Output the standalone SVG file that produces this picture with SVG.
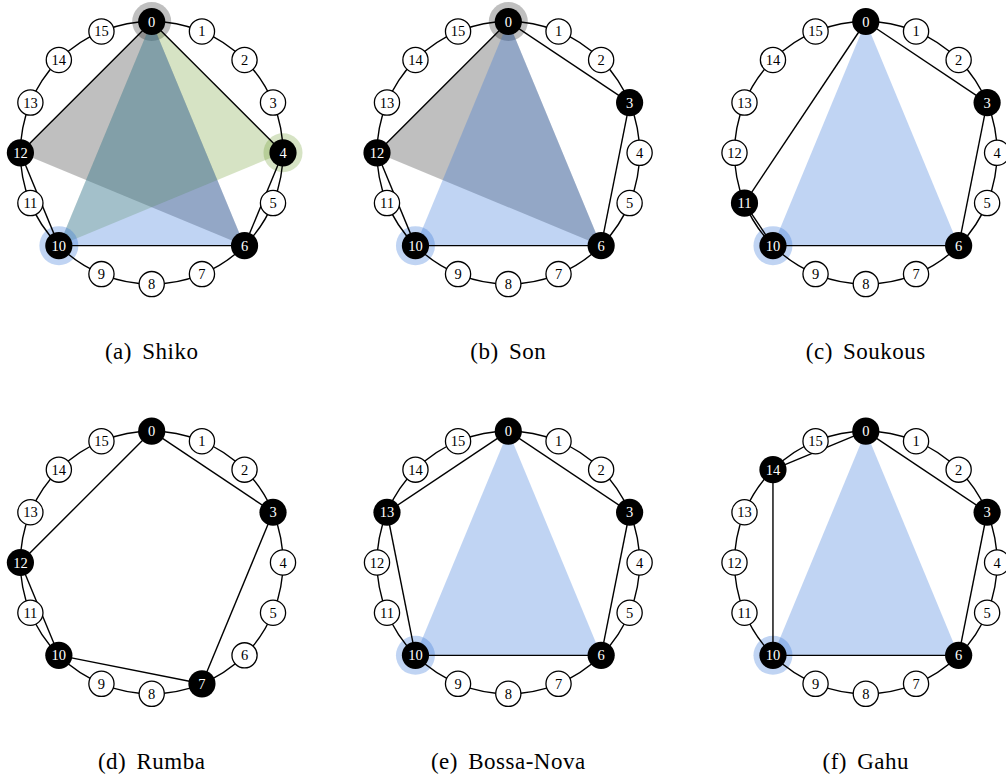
<svg xmlns="http://www.w3.org/2000/svg" width="1006" height="779" viewBox="0 0 1006 779">
<style>
.ring{fill:none;stroke:#000;stroke-width:1.4}
.edge{stroke:#000;stroke-width:1.4;fill:none}
.n circle{fill:#fff;stroke:#000;stroke-width:1.3}
.n text{font-family:'Liberation Serif','Times New Roman','DejaVu Serif',serif;font-size:14.5px;text-anchor:middle;fill:#000}
.on circle{fill:#000;stroke:none}
.on text{fill:#fff}
.gray{fill:#000;fill-opacity:0.25}
.green{fill:#5a9114;fill-opacity:0.25}
.blue{fill:#3070d7;fill-opacity:0.3}
.cap{font-family:'Liberation Serif','Times New Roman','DejaVu Serif',serif;font-size:23px;text-anchor:middle;fill:#000;word-spacing:4px;letter-spacing:0.5px}
</style>
<rect width="1006" height="779" fill="#fff"/>

<!-- (a) Shiko -->
<g id="diagram-a" transform="translate(151.7,152.8)">
<g id="a-fills">
<polygon class="gray" points="0,-131.3 -131.3,0 92.84,92.84"/>
<circle class="gray" cx="0" cy="-131.3" r="19.5"/>
<polygon class="green" points="0,-131.3 131.3,0 -92.84,92.84"/>
<circle class="green" cx="131.3" cy="0" r="19.5"/>
<polygon class="blue" points="0,-131.3 -92.84,92.84 92.84,92.84"/>
<circle class="blue" cx="-92.84" cy="92.84" r="19.5"/>
</g>
<g id="a-connectors">
<circle class="ring" r="131.3"/>
<line class="edge" x1="0" y1="-131.3" x2="131.3" y2="0"/>
<line class="edge" x1="131.3" y1="0" x2="92.84" y2="92.84"/>
<line class="edge" x1="92.84" y1="92.84" x2="-92.84" y2="92.84"/>
<line class="edge" x1="-92.84" y1="92.84" x2="-131.3" y2="0"/>
<line class="edge" x1="-131.3" y1="0" x2="0" y2="-131.3"/>
</g>
<g id="a0" class="n on" transform="translate(0,-131.3)"><circle r="13.6"/><text y="5">0</text></g>
<g id="a1" class="n" transform="translate(50.25,-121.31)"><circle r="12.6"/><text y="5">1</text></g>
<g id="a2" class="n" transform="translate(92.84,-92.84)"><circle r="12.6"/><text y="5">2</text></g>
<g id="a3" class="n" transform="translate(121.31,-50.25)"><circle r="12.6"/><text y="5">3</text></g>
<g id="a4" class="n on" transform="translate(131.3,0)"><circle r="13.6"/><text y="5">4</text></g>
<g id="a5" class="n" transform="translate(121.31,50.25)"><circle r="12.6"/><text y="5">5</text></g>
<g id="a6" class="n on" transform="translate(92.84,92.84)"><circle r="13.6"/><text y="5">6</text></g>
<g id="a7" class="n" transform="translate(50.25,121.31)"><circle r="12.6"/><text y="5">7</text></g>
<g id="a8" class="n" transform="translate(0,131.3)"><circle r="12.6"/><text y="5">8</text></g>
<g id="a9" class="n" transform="translate(-50.25,121.31)"><circle r="12.6"/><text y="5">9</text></g>
<g id="a10" class="n on" transform="translate(-92.84,92.84)"><circle r="13.6"/><text y="5">10</text></g>
<g id="a11" class="n" transform="translate(-121.31,50.25)"><circle r="12.6"/><text y="5">11</text></g>
<g id="a12" class="n on" transform="translate(-131.3,0)"><circle r="13.6"/><text y="5">12</text></g>
<g id="a13" class="n" transform="translate(-121.31,-50.25)"><circle r="12.6"/><text y="5">13</text></g>
<g id="a14" class="n" transform="translate(-92.84,-92.84)"><circle r="12.6"/><text y="5">14</text></g>
<g id="a15" class="n" transform="translate(-50.25,-121.31)"><circle r="12.6"/><text y="5">15</text></g>
</g>
<text id="cap-a" class="cap" x="151.7" y="359">(a) Shiko</text>

<!-- (b) Son -->
<g id="diagram-b" transform="translate(508.3,152.8)">
<g id="b-fills">
<polygon class="gray" points="0,-131.3 -131.3,0 92.84,92.84"/>
<circle class="gray" cx="0" cy="-131.3" r="19.5"/>
<polygon class="blue" points="0,-131.3 -92.84,92.84 92.84,92.84"/>
<circle class="blue" cx="-92.84" cy="92.84" r="19.5"/>
</g>
<g id="b-connectors">
<circle class="ring" r="131.3"/>
<line class="edge" x1="0" y1="-131.3" x2="121.31" y2="-50.25"/>
<line class="edge" x1="121.31" y1="-50.25" x2="92.84" y2="92.84"/>
<line class="edge" x1="92.84" y1="92.84" x2="-92.84" y2="92.84"/>
<line class="edge" x1="-92.84" y1="92.84" x2="-131.3" y2="0"/>
<line class="edge" x1="-131.3" y1="0" x2="0" y2="-131.3"/>
</g>
<g id="b0" class="n on" transform="translate(0,-131.3)"><circle r="13.6"/><text y="5">0</text></g>
<g id="b1" class="n" transform="translate(50.25,-121.31)"><circle r="12.6"/><text y="5">1</text></g>
<g id="b2" class="n" transform="translate(92.84,-92.84)"><circle r="12.6"/><text y="5">2</text></g>
<g id="b3" class="n on" transform="translate(121.31,-50.25)"><circle r="13.6"/><text y="5">3</text></g>
<g id="b4" class="n" transform="translate(131.3,0)"><circle r="12.6"/><text y="5">4</text></g>
<g id="b5" class="n" transform="translate(121.31,50.25)"><circle r="12.6"/><text y="5">5</text></g>
<g id="b6" class="n on" transform="translate(92.84,92.84)"><circle r="13.6"/><text y="5">6</text></g>
<g id="b7" class="n" transform="translate(50.25,121.31)"><circle r="12.6"/><text y="5">7</text></g>
<g id="b8" class="n" transform="translate(0,131.3)"><circle r="12.6"/><text y="5">8</text></g>
<g id="b9" class="n" transform="translate(-50.25,121.31)"><circle r="12.6"/><text y="5">9</text></g>
<g id="b10" class="n on" transform="translate(-92.84,92.84)"><circle r="13.6"/><text y="5">10</text></g>
<g id="b11" class="n" transform="translate(-121.31,50.25)"><circle r="12.6"/><text y="5">11</text></g>
<g id="b12" class="n on" transform="translate(-131.3,0)"><circle r="13.6"/><text y="5">12</text></g>
<g id="b13" class="n" transform="translate(-121.31,-50.25)"><circle r="12.6"/><text y="5">13</text></g>
<g id="b14" class="n" transform="translate(-92.84,-92.84)"><circle r="12.6"/><text y="5">14</text></g>
<g id="b15" class="n" transform="translate(-50.25,-121.31)"><circle r="12.6"/><text y="5">15</text></g>
</g>
<text id="cap-b" class="cap" x="508.3" y="359">(b) Son</text>

<!-- (c) Soukous -->
<g id="diagram-c" transform="translate(865.8,152.8)">
<g id="c-fills">
<polygon class="blue" points="0,-131.3 -92.84,92.84 92.84,92.84"/>
<circle class="blue" cx="-92.84" cy="92.84" r="19.5"/>
</g>
<g id="c-connectors">
<circle class="ring" r="131.3"/>
<line class="edge" x1="0" y1="-131.3" x2="121.31" y2="-50.25"/>
<line class="edge" x1="121.31" y1="-50.25" x2="92.84" y2="92.84"/>
<line class="edge" x1="92.84" y1="92.84" x2="-92.84" y2="92.84"/>
<line class="edge" x1="-92.84" y1="92.84" x2="-121.31" y2="50.25"/>
<line class="edge" x1="-121.31" y1="50.25" x2="0" y2="-131.3"/>
</g>
<g id="c0" class="n on" transform="translate(0,-131.3)"><circle r="13.6"/><text y="5">0</text></g>
<g id="c1" class="n" transform="translate(50.25,-121.31)"><circle r="12.6"/><text y="5">1</text></g>
<g id="c2" class="n" transform="translate(92.84,-92.84)"><circle r="12.6"/><text y="5">2</text></g>
<g id="c3" class="n on" transform="translate(121.31,-50.25)"><circle r="13.6"/><text y="5">3</text></g>
<g id="c4" class="n" transform="translate(131.3,0)"><circle r="12.6"/><text y="5">4</text></g>
<g id="c5" class="n" transform="translate(121.31,50.25)"><circle r="12.6"/><text y="5">5</text></g>
<g id="c6" class="n on" transform="translate(92.84,92.84)"><circle r="13.6"/><text y="5">6</text></g>
<g id="c7" class="n" transform="translate(50.25,121.31)"><circle r="12.6"/><text y="5">7</text></g>
<g id="c8" class="n" transform="translate(0,131.3)"><circle r="12.6"/><text y="5">8</text></g>
<g id="c9" class="n" transform="translate(-50.25,121.31)"><circle r="12.6"/><text y="5">9</text></g>
<g id="c10" class="n on" transform="translate(-92.84,92.84)"><circle r="13.6"/><text y="5">10</text></g>
<g id="c11" class="n on" transform="translate(-121.31,50.25)"><circle r="13.6"/><text y="5">11</text></g>
<g id="c12" class="n" transform="translate(-131.3,0)"><circle r="12.6"/><text y="5">12</text></g>
<g id="c13" class="n" transform="translate(-121.31,-50.25)"><circle r="12.6"/><text y="5">13</text></g>
<g id="c14" class="n" transform="translate(-92.84,-92.84)"><circle r="12.6"/><text y="5">14</text></g>
<g id="c15" class="n" transform="translate(-50.25,-121.31)"><circle r="12.6"/><text y="5">15</text></g>
</g>
<text id="cap-c" class="cap" x="865.8" y="359">(c) Soukous</text>

<!-- (d) Rumba -->
<g id="diagram-d" transform="translate(151.7,562.5)">
<g id="d-connectors">
<circle class="ring" r="131.3"/>
<line class="edge" x1="0" y1="-131.3" x2="121.31" y2="-50.25"/>
<line class="edge" x1="121.31" y1="-50.25" x2="50.25" y2="121.31"/>
<line class="edge" x1="50.25" y1="121.31" x2="-92.84" y2="92.84"/>
<line class="edge" x1="-92.84" y1="92.84" x2="-131.3" y2="0"/>
<line class="edge" x1="-131.3" y1="0" x2="0" y2="-131.3"/>
</g>
<g id="d0" class="n on" transform="translate(0,-131.3)"><circle r="13.6"/><text y="5">0</text></g>
<g id="d1" class="n" transform="translate(50.25,-121.31)"><circle r="12.6"/><text y="5">1</text></g>
<g id="d2" class="n" transform="translate(92.84,-92.84)"><circle r="12.6"/><text y="5">2</text></g>
<g id="d3" class="n on" transform="translate(121.31,-50.25)"><circle r="13.6"/><text y="5">3</text></g>
<g id="d4" class="n" transform="translate(131.3,0)"><circle r="12.6"/><text y="5">4</text></g>
<g id="d5" class="n" transform="translate(121.31,50.25)"><circle r="12.6"/><text y="5">5</text></g>
<g id="d6" class="n" transform="translate(92.84,92.84)"><circle r="12.6"/><text y="5">6</text></g>
<g id="d7" class="n on" transform="translate(50.25,121.31)"><circle r="13.6"/><text y="5">7</text></g>
<g id="d8" class="n" transform="translate(0,131.3)"><circle r="12.6"/><text y="5">8</text></g>
<g id="d9" class="n" transform="translate(-50.25,121.31)"><circle r="12.6"/><text y="5">9</text></g>
<g id="d10" class="n on" transform="translate(-92.84,92.84)"><circle r="13.6"/><text y="5">10</text></g>
<g id="d11" class="n" transform="translate(-121.31,50.25)"><circle r="12.6"/><text y="5">11</text></g>
<g id="d12" class="n on" transform="translate(-131.3,0)"><circle r="13.6"/><text y="5">12</text></g>
<g id="d13" class="n" transform="translate(-121.31,-50.25)"><circle r="12.6"/><text y="5">13</text></g>
<g id="d14" class="n" transform="translate(-92.84,-92.84)"><circle r="12.6"/><text y="5">14</text></g>
<g id="d15" class="n" transform="translate(-50.25,-121.31)"><circle r="12.6"/><text y="5">15</text></g>
</g>
<text id="cap-d" class="cap" x="151.7" y="769">(d) Rumba</text>

<!-- (e) Bossa-Nova -->
<g id="diagram-e" transform="translate(508.3,562.5)">
<g id="e-fills">
<polygon class="blue" points="0,-131.3 -92.84,92.84 92.84,92.84"/>
<circle class="blue" cx="-92.84" cy="92.84" r="19.5"/>
</g>
<g id="e-connectors">
<circle class="ring" r="131.3"/>
<line class="edge" x1="0" y1="-131.3" x2="121.31" y2="-50.25"/>
<line class="edge" x1="121.31" y1="-50.25" x2="92.84" y2="92.84"/>
<line class="edge" x1="92.84" y1="92.84" x2="-92.84" y2="92.84"/>
<line class="edge" x1="-92.84" y1="92.84" x2="-121.31" y2="-50.25"/>
<line class="edge" x1="-121.31" y1="-50.25" x2="0" y2="-131.3"/>
</g>
<g id="e0" class="n on" transform="translate(0,-131.3)"><circle r="13.6"/><text y="5">0</text></g>
<g id="e1" class="n" transform="translate(50.25,-121.31)"><circle r="12.6"/><text y="5">1</text></g>
<g id="e2" class="n" transform="translate(92.84,-92.84)"><circle r="12.6"/><text y="5">2</text></g>
<g id="e3" class="n on" transform="translate(121.31,-50.25)"><circle r="13.6"/><text y="5">3</text></g>
<g id="e4" class="n" transform="translate(131.3,0)"><circle r="12.6"/><text y="5">4</text></g>
<g id="e5" class="n" transform="translate(121.31,50.25)"><circle r="12.6"/><text y="5">5</text></g>
<g id="e6" class="n on" transform="translate(92.84,92.84)"><circle r="13.6"/><text y="5">6</text></g>
<g id="e7" class="n" transform="translate(50.25,121.31)"><circle r="12.6"/><text y="5">7</text></g>
<g id="e8" class="n" transform="translate(0,131.3)"><circle r="12.6"/><text y="5">8</text></g>
<g id="e9" class="n" transform="translate(-50.25,121.31)"><circle r="12.6"/><text y="5">9</text></g>
<g id="e10" class="n on" transform="translate(-92.84,92.84)"><circle r="13.6"/><text y="5">10</text></g>
<g id="e11" class="n" transform="translate(-121.31,50.25)"><circle r="12.6"/><text y="5">11</text></g>
<g id="e12" class="n" transform="translate(-131.3,0)"><circle r="12.6"/><text y="5">12</text></g>
<g id="e13" class="n on" transform="translate(-121.31,-50.25)"><circle r="13.6"/><text y="5">13</text></g>
<g id="e14" class="n" transform="translate(-92.84,-92.84)"><circle r="12.6"/><text y="5">14</text></g>
<g id="e15" class="n" transform="translate(-50.25,-121.31)"><circle r="12.6"/><text y="5">15</text></g>
</g>
<text id="cap-e" class="cap" x="508.3" y="769">(e) Bossa-Nova</text>

<!-- (f) Gahu -->
<g id="diagram-f" transform="translate(865.8,562.5)">
<g id="f-fills">
<polygon class="blue" points="0,-131.3 -92.84,92.84 92.84,92.84"/>
<circle class="blue" cx="-92.84" cy="92.84" r="19.5"/>
</g>
<g id="f-connectors">
<circle class="ring" r="131.3"/>
<line class="edge" x1="0" y1="-131.3" x2="121.31" y2="-50.25"/>
<line class="edge" x1="121.31" y1="-50.25" x2="92.84" y2="92.84"/>
<line class="edge" x1="92.84" y1="92.84" x2="-92.84" y2="92.84"/>
<line class="edge" x1="-92.84" y1="92.84" x2="-92.84" y2="-92.84"/>
<line class="edge" x1="-92.84" y1="-92.84" x2="0" y2="-131.3"/>
</g>
<g id="f0" class="n on" transform="translate(0,-131.3)"><circle r="13.6"/><text y="5">0</text></g>
<g id="f1" class="n" transform="translate(50.25,-121.31)"><circle r="12.6"/><text y="5">1</text></g>
<g id="f2" class="n" transform="translate(92.84,-92.84)"><circle r="12.6"/><text y="5">2</text></g>
<g id="f3" class="n on" transform="translate(121.31,-50.25)"><circle r="13.6"/><text y="5">3</text></g>
<g id="f4" class="n" transform="translate(131.3,0)"><circle r="12.6"/><text y="5">4</text></g>
<g id="f5" class="n" transform="translate(121.31,50.25)"><circle r="12.6"/><text y="5">5</text></g>
<g id="f6" class="n on" transform="translate(92.84,92.84)"><circle r="13.6"/><text y="5">6</text></g>
<g id="f7" class="n" transform="translate(50.25,121.31)"><circle r="12.6"/><text y="5">7</text></g>
<g id="f8" class="n" transform="translate(0,131.3)"><circle r="12.6"/><text y="5">8</text></g>
<g id="f9" class="n" transform="translate(-50.25,121.31)"><circle r="12.6"/><text y="5">9</text></g>
<g id="f10" class="n on" transform="translate(-92.84,92.84)"><circle r="13.6"/><text y="5">10</text></g>
<g id="f11" class="n" transform="translate(-121.31,50.25)"><circle r="12.6"/><text y="5">11</text></g>
<g id="f12" class="n" transform="translate(-131.3,0)"><circle r="12.6"/><text y="5">12</text></g>
<g id="f13" class="n" transform="translate(-121.31,-50.25)"><circle r="12.6"/><text y="5">13</text></g>
<g id="f14" class="n on" transform="translate(-92.84,-92.84)"><circle r="13.6"/><text y="5">14</text></g>
<g id="f15" class="n" transform="translate(-50.25,-121.31)"><circle r="12.6"/><text y="5">15</text></g>
</g>
<text id="cap-f" class="cap" x="865.8" y="769">(f) Gahu</text>
</svg>
